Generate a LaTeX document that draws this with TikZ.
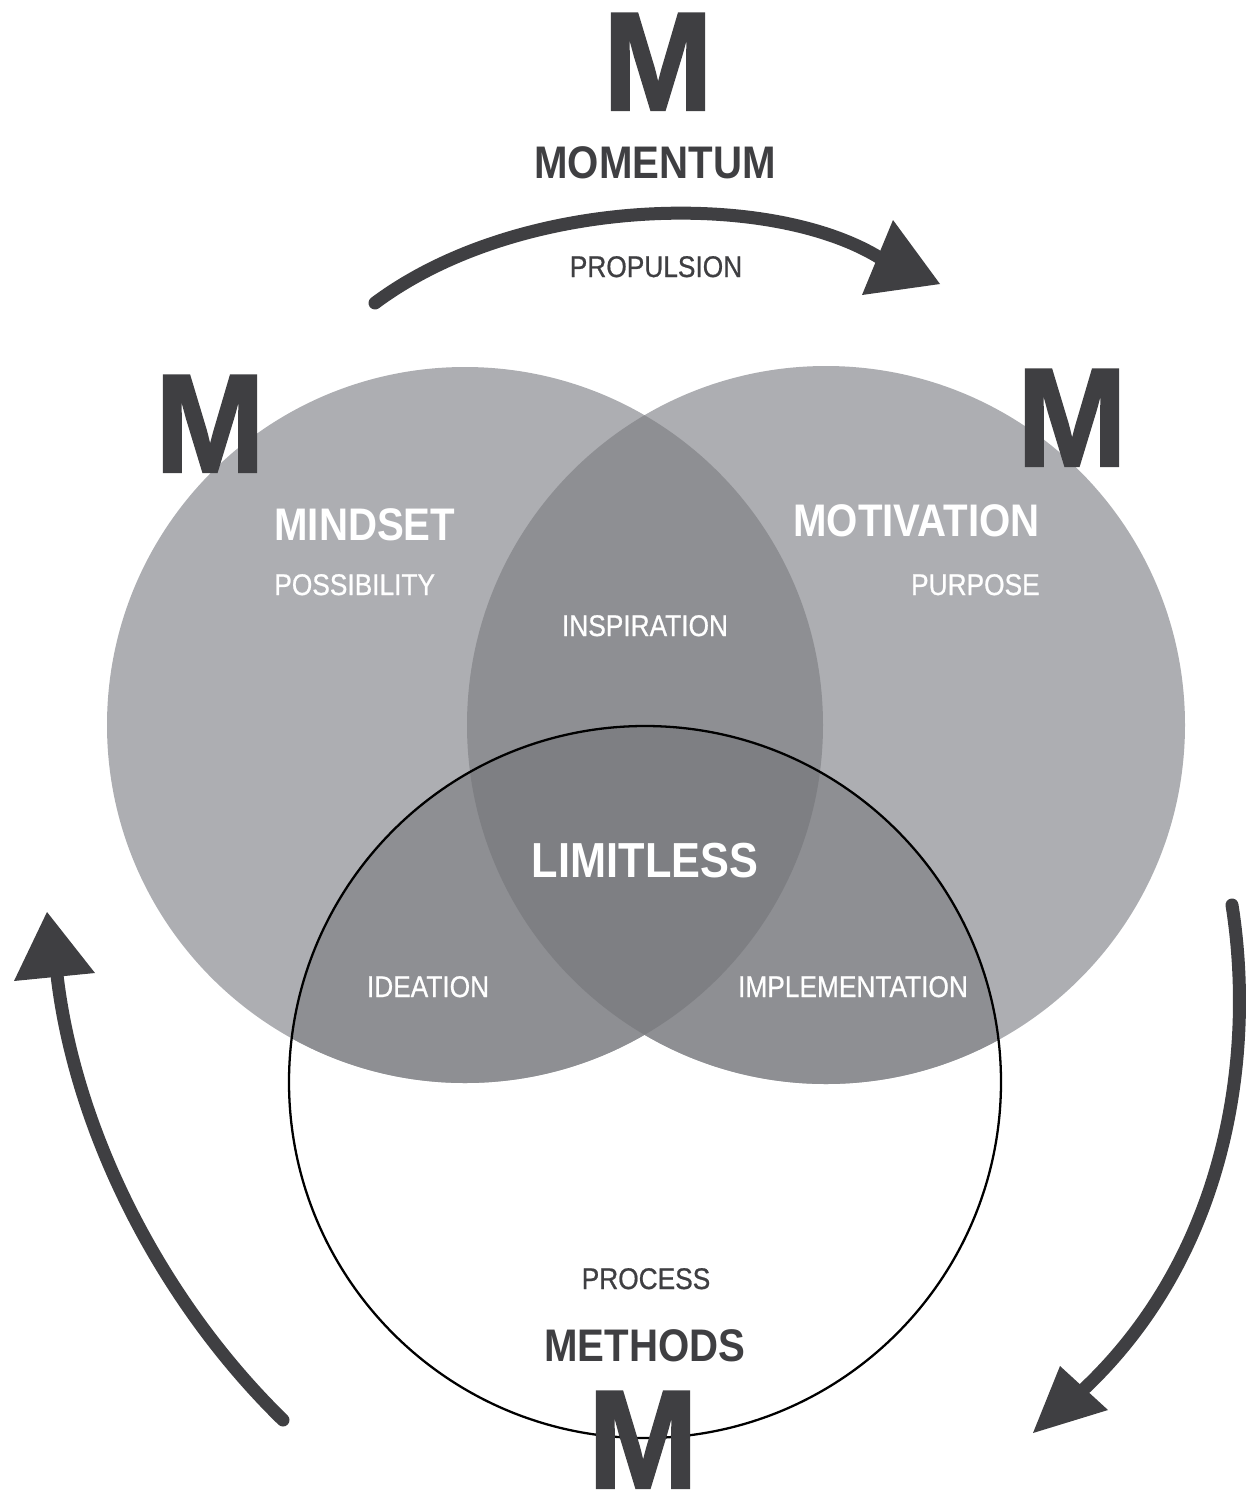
\documentclass[tikz,border=0pt]{standalone}
\usepackage{fontspec}
\setmainfont[FakeStretch=0.88]{Liberation Sans}
\newfontfamily\bigmfont[FakeStretch=0.94, FakeBold=1.5]{Liberation Sans}
\newfontfamily\medfont[FakeStretch=0.88, FakeBold=0.7]{Liberation Sans}
\definecolor{cone}{HTML}{ADAEB2}
\definecolor{ctwo}{HTML}{8E8F93}
\definecolor{cthree}{HTML}{7E7F83}
\definecolor{ink}{HTML}{3F3F42}
\tikzset{
  bigm/.style={inner sep=0, text=ink, font=\bigmfont\bfseries\fontsize{80pt}{80pt}\selectfont},
  headw/.style={inner sep=0, text=white, font=\bfseries\fontsize{26pt}{26pt}\selectfont},
  headd/.style={inner sep=0, text=ink, font=\bfseries\fontsize{26pt}{26pt}\selectfont},
  labw/.style={inner sep=0, text=white, font=\medfont\fontsize{17pt}{17pt}\selectfont},
  labd/.style={inner sep=0, text=ink, font=\medfont\fontsize{17pt}{17pt}\selectfont},
  shaft/.style={draw=ink, line width=7.4pt, line cap=round},
  head/.style={fill=ink},
}
\begin{document}
\begin{tikzpicture}[x=0.02cm, y=-0.02cm]
\useasboundingbox (0,0) rectangle (1249,1502);
% circles
\def\lc{(465,725) circle (358)}
\def\rc{(826,725) circle (359)}
\def\bc{(645,1082) circle (356)}
\fill[cone] \lc;
\fill[cone] \rc;
\begin{scope}
  \clip \lc;
  \fill[ctwo] \rc;
\end{scope}
\begin{scope}
  \clip \bc;
  \fill[ctwo] \lc;
  \fill[ctwo] \rc;
  \begin{scope}
    \clip \lc;
    \fill[cthree] \rc;
  \end{scope}
\end{scope}
\draw[black, line width=1.3pt] \bc;

% arrows
\coordinate (ta) at (375,303);
\coordinate (tb) at (880,258);
\draw[shaft] (ta) .. controls (520,195) and (770,190) .. (tb);
\fill[head] (893,220) -- (940,284) -- (862,295) -- cycle;

\coordinate (la) at (283,1420);
\coordinate (lb) at (57,975);
\draw[shaft] (la) .. controls (160,1300) and (75,1130) .. (lb);
\fill[head] (14,981) -- (47,912) -- (95,973) -- cycle;

\coordinate (ra) at (1232,905);
\coordinate (rb) at (1085,1388);
\draw[shaft] (ra) .. controls (1255,1050) and (1230,1250) .. (rb);
\fill[head] (1060,1366) -- (1033,1433) -- (1108,1410) -- cycle;

% texts
\node[bigm, anchor=base] (mtop) at (658,110) {M};
\node[headd, anchor=base] (momentum) at (655,178) {MOMENTUM};
\node[labd, anchor=base] (propulsion) at (656,277) {PROPULSION};

\node[bigm, anchor=base] (mleft) at (210,472) {M};
\node[bigm, anchor=base] (mright) at (1072,466) {M};

\node[headw, anchor=base west] (mindset) at (274,540) {MINDSET};
\node[labw, anchor=base west] (possibility) at (274,595) {POSSIBILITY};
\node[headw, anchor=base east] (motivation) at (1040,536) {MOTIVATION};
\node[labw, anchor=base east] (purpose) at (1040,595) {PURPOSE};
\node[labw, anchor=base] (inspiration) at (645,636) {INSPIRATION};
\node[headw, anchor=base, font=\bfseries\fontsize{28pt}{28pt}\selectfont] (limitless) at (645,877) {LIMITLESS};
\node[labw, anchor=base] (ideation) at (428,997) {IDEATION};
\node[labw, anchor=base] (implementation) at (853,997) {IMPLEMENTATION};
\node[labd, anchor=base] (process) at (646,1289) {PROCESS};
\node[headd, anchor=base] (methods) at (645,1361) {METHODS};
\node[bigm, anchor=base] (mbottom) at (643,1488) {M};
\end{tikzpicture}
\end{document}
